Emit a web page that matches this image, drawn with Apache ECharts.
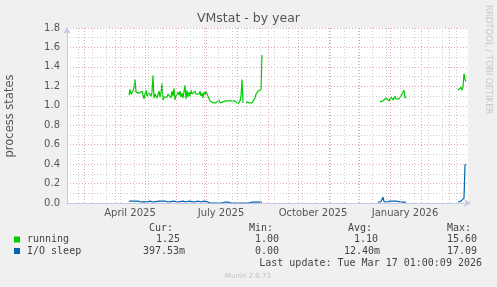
<!DOCTYPE html>
<html><head><meta charset="utf-8">
<script src="https://cdn.jsdelivr.net/npm/echarts@6/dist/echarts.min.js"></script>
<style>html,body{margin:0;padding:0;background:#f0f0f0}#c{width:497px;height:287px}</style>
</head><body><div id="c"></div>
<script>
// ---- axis / time frame ----
const axisStart = '2025-02-12';
const axisDays = 401;
const monthStarts = ['2025-03-01','2025-04-01','2025-05-01','2025-06-01','2025-07-01','2025-08-01','2025-09-01','2025-10-01','2025-11-01','2025-12-01','2026-01-01','2026-02-01','2026-03-01'];
const fortnightStart = '2025-02-23';
const xLabelDates = ['2025-04-16','2025-07-16','2025-10-16','2026-01-16'];
const xLabelTexts = ['April 2025','July 2025','October 2025','January 2026'];
const yTicks = [0,0.2,0.4,0.6,0.8,1.0,1.2,1.4,1.6,1.8];

// ---- series: running ----
const runningSeg1Start = '2025-04-15';
const runningSeg1 = [
1.11,1.17,1.12,1.10,1.15,1.19,1.27,1.14,1.12,1.16,
1.13,1.14,1.12,1.15,1.11,1.07,1.12,1.16,1.10,1.09,
1.13,1.11,1.10,1.14,1.31,1.08,1.12,1.11,1.08,1.10,
1.15,1.09,1.13,1.23,1.06,1.09,1.10,1.08,1.09,1.12,
1.10,1.11,1.08,1.15,1.10,1.18,1.06,1.10,1.12,1.14,
1.11,1.15,1.09,1.13,1.08,1.10,1.21,1.07,1.16,1.09,
1.14,1.10,1.16,1.12,1.14,1.11,1.15,1.12,1.13,1.10,
1.12,1.15,1.10,1.13,1.08,1.14,1.11,1.15,1.12,1.13,
1.11,1.05,1.03,1.04,1.03,1.05,1.04,1.03,1.05,1.04,
1.06,1.03,1.04,1.05,1.04,1.03,1.04,1.05,1.03,1.04,
1.05,1.07,1.04,1.05,1.04,1.03,1.05,1.04,1.03,1.02,
1.03,1.05,1.10,1.27,1.03,null,null,1.04,1.03,1.04,
1.03,1.04,1.02,1.03,1.01,1.04,1.08,1.12,1.10,1.15,
1.13,1.15,1.17,1.52];
const runningSeg2Start = '2025-12-22';
const runningSeg2 = [1.04,1.05,1.06,1.05,1.07,1.06,1.08,1.07,1.06,1.05,1.07,1.09,1.08,1.06,1.07,1.10,1.07,1.08,1.09,1.07,1.08,1.10,1.09,1.12,1.16,1.08,1.09];
const runningSeg3Start = '2026-03-10';
const runningSeg3 = [1.16,1.17,1.18,1.19,1.16,1.20,1.33,1.27,1.25];

// ---- series: I/O sleep ----
const ioSeg1Start = '2025-04-15';
const ioSeg1 = [
0.02,0.02,0.015,0.02,0.02,0.01,0.02,0.015,0.02,0.02,
0.015,0.02,0.01,0.02,0.02,0.015,0.02,0.02,0.01,0.015,
0.02,0.02,0.015,0.02,0.01,0.02,0.02,0.015,0.02,0.01,
0.02,0.015,0.02,0.02,0.01,0.015,0.02,0.02,0.015,0.01,
0.02,0.02,0.015,0.02,0.01,0.02,0.015,0.02,0.01,0.02,
0.02,0.015,0.01,0.02,0.02,0.015,0.02,0.01,0.02,0.015,
0.02,0.01,0.02,0.015,0.02,0.02,0.01,0.015,0.02,0.02,
0.015,0.02,0.01,0.02,0.015,0.02,0.02,0.01,0.015,0.02,
0.01,0,0,0,0,0,0,0,0,0,
0,0,0,0,0,0,0.01,0.015,0.01,0.01,
0.01,0,0,0,0,0,0.01,0,0,0,
0,0,0.015,0,0,0,0,0,0,0,
0,0,0,0.01,0.01,0.015,0.01,0.01,0.01,0.01,
0,0,0.01,0.01];
const ioSeg2Start = '2025-12-20';
const ioSeg2 = [0.005,0.005,0.005,0.015,0.03,0.06,0.015,0.01,0.01,0.01,0.01,0.01,0.02,0.01,0.01,0.02,0.01,0.01,0.02,0.01,0.01,0.015,0.01,0.01,0.01,0.015,0.02,0.01,0.01];
const ioSeg3Start = '2026-03-10';
const ioSeg3 = [0.01,0.01,0.015,0.02,0.025,0.035,0.05,0.39,0.40];

// ---- legend stats ----
const legendNames = ['running','I/O sleep'];
const legendColors = ['#00cc00','#0066b3'];
const statHeaders = ['Cur:','Min:','Avg:','Max:'];
const statsRunning = ['1.25','1.00','1.10','15.60'];
const statsIO = ['397.53m','0.00','12.40m','17.09'];
const lastUpdate = 'Last update: Tue Mar 17 01:00:09 2026';

// ---- helpers ----
function dayOf(s){const p=s.split('-').map(Number);const a=axisStart.split('-').map(Number);
  return Math.round((Date.UTC(p[0],p[1]-1,p[2])-Date.UTC(a[0],a[1]-1,a[2]))/86400000);}
function segs(list){const out=[];list.forEach(([start,vals],i)=>{const d0=dayOf(start);
  if(i>0) out.push([d0-0.5,'-']);
  vals.forEach((v,j)=>out.push([d0+j, v===null?'-':v]));});return out;}

const runningData = segs([[runningSeg1Start,runningSeg1],[runningSeg2Start,runningSeg2],[runningSeg3Start,runningSeg3]]);
const ioData = segs([[ioSeg1Start,ioSeg1],[ioSeg2Start,ioSeg2],[ioSeg3Start,ioSeg3]]);

const monthDays = monthStarts.map(dayOf);
const minorDays = [];
for(let d=dayOf(fortnightStart); d<axisDays; d+=14) minorDays.push(d);
const labelDays = xLabelDates.map(dayOf);

const RED='#e4a7a7', GREY='#cdcdcd', AXIS='#c4cae6';
const mono='"DejaVu Sans Mono", monospace';
const sans='"DejaVu Sans", sans-serif';

const chart = echarts.init(document.getElementById('c'), null, {renderer:'canvas'});
const colX=[[149,249,348,447],[156,255,354,447],[143,255,344,447]];
const gfx=[];
gfx.push({type:'text',left:'center',top:12,style:{text:'VMstat - by year',font:'12.5px '+sans,fill:'#555'}});
gfx.push({type:'text',x:4,y:116,rotation:Math.PI/2,style:{text:'process states',font:'11.5px '+sans,fill:'#555',align:'center',verticalAlign:'top'}});
gfx.push({type:'text',x:488,y:5,rotation:-Math.PI/2,style:{text:'RRDTOOL / TOBI OETIKER',font:'8.5px '+sans,fill:'#c8c8c8',align:'left',verticalAlign:'middle'}});
statHeaders.forEach((h,i)=>gfx.push({type:'text',x:colX[0][i],y:228,style:{text:h,font:'10px '+mono,fill:'#444',verticalAlign:'middle'}}));
[statsRunning,statsIO].forEach((row,r)=>{
  const y=239.5+r*11.5;
  gfx.push({type:'rect',shape:{x:14,y:y-3,width:6,height:6},style:{fill:legendColors[r]}});
  gfx.push({type:'text',x:27,y:y,style:{text:legendNames[r],font:'10px '+mono,fill:'#444',verticalAlign:'middle'}});
  row.forEach((v,i)=>gfx.push({type:'text',x:colX[r+1][i],y:y,style:{text:v,font:'10px '+mono,fill:'#444',verticalAlign:'middle'}}));
});
gfx.push({type:'text',x:482,y:263.5,style:{text:lastUpdate,font:'10px '+mono,fill:'#444',align:'right',verticalAlign:'middle'}});
gfx.push({type:'text',x:248,y:276.5,style:{text:'Munin 2.0.73',font:'7px '+sans,fill:'#c0c0c0',align:'center',verticalAlign:'middle'}});

const vlines = minorDays.map(d=>({xAxis:d,lineStyle:{color:GREY}})).concat(monthDays.map(d=>({xAxis:d,lineStyle:{color:RED}})));

chart.setOption({
  animation:false,
  backgroundColor:'#f0f0f0',
  grid:{left:67,right:29,top:28,bottom:84,show:true,backgroundColor:'#ffffff',borderWidth:0},
  xAxis:{type:'value',min:0,max:axisDays,
    axisLine:{show:true,lineStyle:{color:AXIS,width:1},symbol:['none','arrow'],symbolSize:[6,7],symbolOffset:[0,3]},
    axisTick:{show:false},splitLine:{show:false},
    axisLabel:{customValues:labelDays,margin:5,fontSize:10,fontFamily:sans,color:'#555',
      formatter:(v)=>xLabelTexts[labelDays.indexOf(Math.round(v))]||''}},
  yAxis:{type:'value',min:0,max:1.8,interval:0.2,
    axisLine:{show:true,lineStyle:{color:AXIS,width:1},symbol:['none','arrow'],symbolSize:[6,7],symbolOffset:[0,1]},
    axisTick:{show:false},
    axisLabel:{fontSize:10,fontFamily:sans,color:'#555',margin:7,formatter:v=>v.toFixed(1)},
    splitLine:{show:true,lineStyle:{color:RED,type:[1,2],width:1}},
    minorTick:{show:false,splitNumber:2},
    minorSplitLine:{show:true,lineStyle:{color:GREY,type:[1,2],width:1}}},
  graphic:gfx,
  series:[
    {type:'line',name:'grid',data:[],silent:true,
      markLine:{silent:true,symbol:'none',label:{show:false},animation:false,
        lineStyle:{type:[1,2],width:1},data:vlines}},
    {type:'line',name:'running',data:runningData,showSymbol:false,connectNulls:false,
      lineStyle:{color:'#00cc00',width:1.2},itemStyle:{color:'#00cc00'}},
    {type:'line',name:'I/O sleep',data:ioData,showSymbol:false,connectNulls:false,
      lineStyle:{color:'#0066b3',width:1.2},itemStyle:{color:'#0066b3'}}
  ]
});
</script></body></html>
